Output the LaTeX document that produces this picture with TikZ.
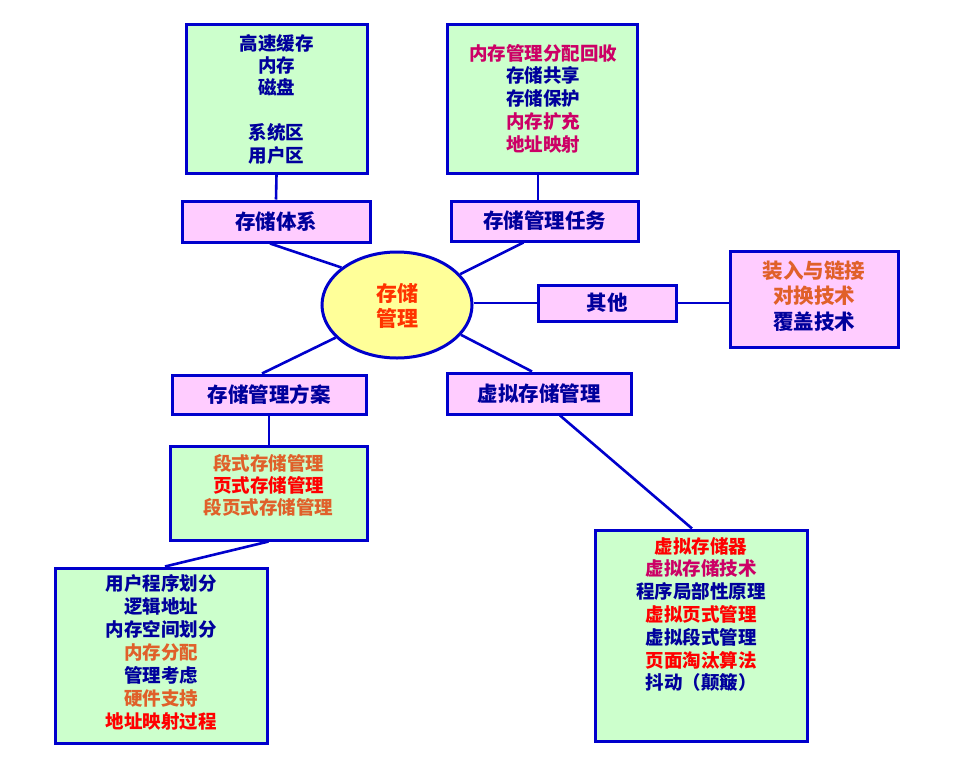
\documentclass[tikz,border=0pt]{standalone}
\usepackage{fontspec}
\newfontfamily\cjk{Noto Sans CJK SC}
\usetikzlibrary{shapes.geometric,calc}
\definecolor{bordc}{HTML}{0000CC}
\definecolor{txtb}{HTML}{00009C}
\definecolor{crim}{HTML}{CC0066}
\definecolor{orng}{HTML}{E0602A}
\definecolor{redc}{HTML}{FF0000}
\definecolor{ellc}{HTML}{FF3300}
\definecolor{gfill}{HTML}{CCFFCC}
\definecolor{pfill}{HTML}{FFCCFF}
\definecolor{yfill}{HTML}{FFFF99}
\tikzset{
  boxbase/.style={draw=bordc, line width=3pt, inner sep=0pt, anchor=center},
  greenbox/.style={boxbase, fill=gfill},
  pinkbox/.style={boxbase, fill=pfill},
  lbl/.style={font=\cjk\bfseries\fontsize{20.5}{24}\selectfont, text=txtb},
  gtxt/.style={align=center, inner sep=0pt, font=\cjk\bfseries\fontsize{18.5}{22.6}\selectfont, text=txtb},
  conn/.style={draw=bordc, line width=2.6pt}
}
\begin{document}
\begin{tikzpicture}[x=1pt,y=-1pt]
\useasboundingbox (0,0) rectangle (964,769);
% boxes
\node[greenbox, minimum width=181pt, minimum height=149pt] (A) at (276.5,98.5) {};
\node[gtxt, font=\cjk\bfseries\fontsize{18.5}{22.4}\selectfont] (At) at (276.5,99) {高速缓存\\内存\\磁盘\\[22.4pt]系统区\\用户区};
\node[pinkbox, minimum width=188pt, minimum height=41pt, lbl] (tixi) at (276,221.5) {存储体系};

\node[greenbox, minimum width=190pt, minimum height=149pt] (B) at (542,98.5) {};
\node[gtxt, font=\cjk\bfseries\fontsize{18.5}{22.75}\selectfont] (Bt) at (543,98.5) {\textcolor{crim}{内存管理分配回收}\\存储共享\\存储保护\\\textcolor{crim}{内存扩充}\\\textcolor{crim}{地址映射}};
\node[pinkbox, minimum width=187pt, minimum height=40pt, lbl] (renwu) at (544.5,221) {存储管理任务};

\node[ellipse, draw=bordc, line width=3pt, fill=yfill, minimum width=150pt, minimum height=106pt, inner sep=0pt] (em) at (397,305) {};
\node[gtxt, font=\cjk\bfseries\fontsize{21}{25}\selectfont, text=ellc] (emt) at (397,305.5) {存储\\管理};

\node[pinkbox, minimum width=138pt, minimum height=36pt, lbl] (qita) at (607,303) {其他};
\node[pinkbox, minimum width=168pt, minimum height=96pt] (C) at (814,299) {};
\node[gtxt, font=\cjk\bfseries\fontsize{20.5}{25.5}\selectfont] (Ct) at (814,296) {\textcolor{orng}{装入与链接}\\\textcolor{orng}{对换技术}\\覆盖技术};

\node[pinkbox, minimum width=194pt, minimum height=39pt, lbl] (fangan) at (269,394.5) {存储管理方案};
\node[greenbox, minimum width=197pt, minimum height=94pt] (D) at (268.5,493) {};
\node[gtxt, font=\cjk\bfseries\fontsize{18.5}{22}\selectfont] (Dt) at (268.5,485) {\textcolor{orng}{段式存储管理}\\\textcolor{redc}{页式存储管理}\\\textcolor{orng}{段页式存储管理}};

\node[greenbox, minimum width=212pt, minimum height=175pt] (E) at (161,655.5) {};
\node[gtxt, font=\cjk\bfseries\fontsize{18.5}{23}\selectfont] (Et) at (161,652) {用户程序划分\\逻辑地址\\内存空间划分\\\textcolor{orng}{内存分配}\\管理考虑\\\textcolor{orng}{硬件支持}\\\textcolor{redc}{地址映射过程}};

\node[pinkbox, minimum width=184pt, minimum height=41pt, lbl] (xuni) at (539,393.5) {虚拟存储管理};
\node[greenbox, minimum width=212pt, minimum height=211pt] (F) at (701,635.5) {};
\node[gtxt, font=\cjk\bfseries\fontsize{18.5}{22.8}\selectfont] (Ft) at (701,614.5) {\textcolor{redc}{虚拟存储器}\\\textcolor{crim}{虚拟存储技术}\\程序局部性原理\\\textcolor{redc}{虚拟页式管理}\\虚拟段式管理\\\textcolor{redc}{页面淘汰算法}\\抖动（颠簸）};

% connectors
\draw[conn] (A.south) -- (tixi.north);
\draw[conn] ($(B.south)+(-4,0)$) coordinate (bt) -- (bt |- renwu.north);
\draw[conn] ($(tixi.south)+(-6,0)$) -- (em.146);
\draw[conn] ($(renwu.south)+(-21,0)$) -- (em.26);
\draw[conn] (qita.west) -- (qita.west -| em.east);
\draw[conn] (qita.east) -- (qita.east -| C.west);
\draw[conn] ($(fangan.north)+(-7,0)$) -- (em.208);
\draw[conn] ($(xuni.north)+(-7,0)$) -- (em.-25);
\draw[conn] (fangan.south) -- (fangan.south |- D.north);
\draw[conn] (D.south) -- ($(E.north)+(4,0)$);
\draw[conn] ($(xuni.south)+(21,0)$) -- ($(F.north)+(-9,0)$);
\end{tikzpicture}
\end{document}
